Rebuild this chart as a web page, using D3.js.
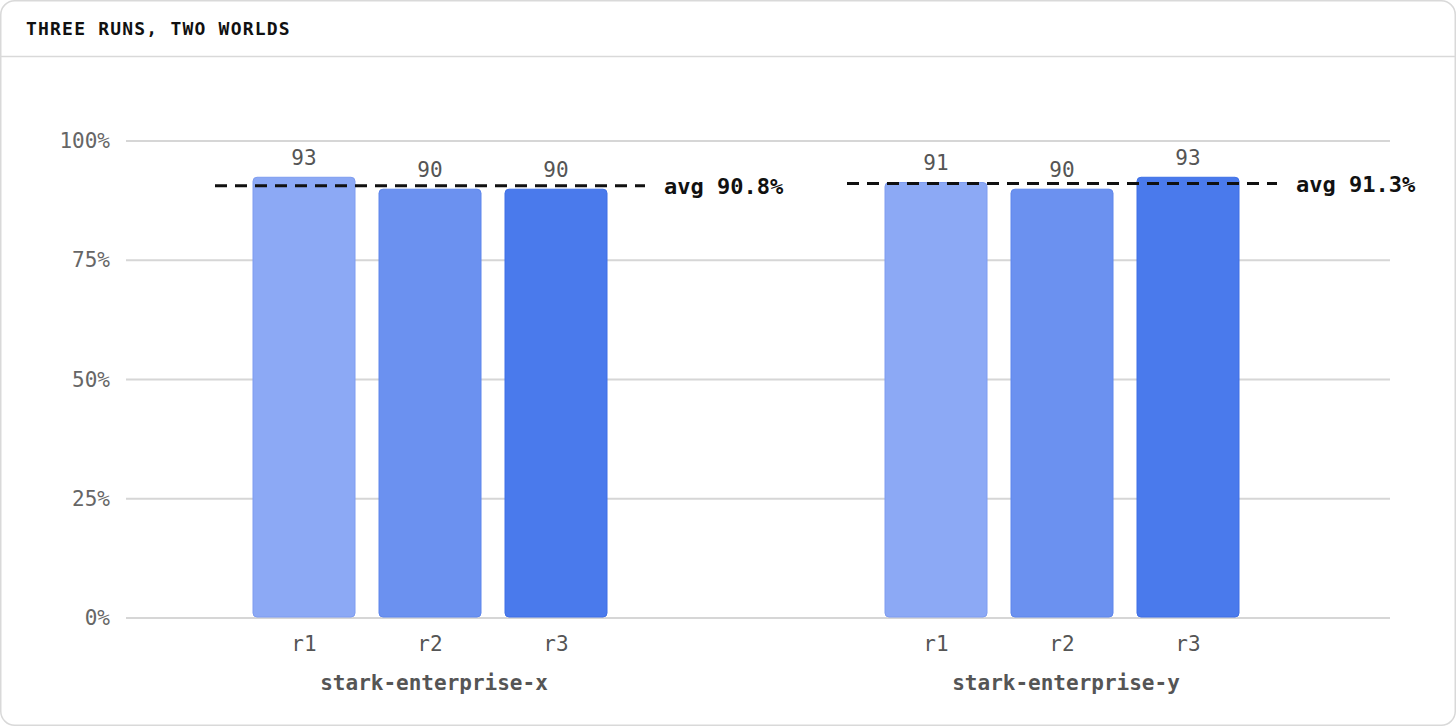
<!DOCTYPE html>
<html>
<head>
<meta charset="utf-8">
<script src="https://cdnjs.cloudflare.com/ajax/libs/d3/7.8.5/d3.min.js"></script>
<style>
  html, body { margin: 0; padding: 0; background: #fff; }
  svg { display: block; }
  text { font-family: "DejaVu Sans Mono", monospace; }
</style>
</head>
<body>
<div id="chart"></div>
<script>
// data
var groups = ["stark-enterprise-x", "stark-enterprise-y"];
var runs = ["r1", "r2", "r3"];
var scoresX = [92.5, 90, 90];
var scoresY = [91.4, 90, 92.5];
var runColors = ["#8ca9f5", "#6b91f0", "#4a7aec"];
var runStrokes = ["#7e9cf0", "#5e86ec", "#3e6fe6"];
var yTicks = [0, 25, 50, 75, 100];
var title = "THREE RUNS, TWO WORLDS";

var svgWidth = 1456;
var svgHeight = 726;

var svg = d3.select("#chart")
    .append("svg")
    .attr("width", svgWidth)
    .attr("height", svgHeight);

// card frame
svg.append("rect")
    .attr("x", 0.75).attr("y", 0.75)
    .attr("width", svgWidth - 1.5).attr("height", svgHeight - 1.5)
    .attr("rx", 14)
    .attr("fill", "#fff")
    .attr("stroke", "#d9d9d9")
    .attr("stroke-width", 1.5);

svg.append("line")
    .attr("x1", 1).attr("x2", svgWidth - 1)
    .attr("y1", 56.5).attr("y2", 56.5)
    .attr("stroke", "#d9d9d9")
    .attr("stroke-width", 1.5);

svg.append("text")
    .attr("x", 26).attr("y", 35)
    .attr("font-size", 18)
    .attr("font-weight", "bold")
    .attr("letter-spacing", 1.2)
    .attr("fill", "#111")
    .text(title);

var data = [
    { group: groups[0], values: scoresX },
    { group: groups[1], values: scoresY }
];

// scales
var x0 = d3.scaleBand()
    .domain(groups)
    .range([114, 1378]);

var x1 = d3.scaleBand()
    .domain(runs)
    .range([-189, 189])
    .paddingInner(24 / 126)
    .paddingOuter(12 / 126);

var y = d3.scaleLinear()
    .domain([0, 100])
    .range([618, 141]);

// grid + y axis
var yAxis = d3.axisLeft(y)
    .tickValues(yTicks)
    .tickSize(0)
    .tickPadding(14)
    .tickFormat(d => d + "%");

var yG = svg.append("g")
    .attr("transform", "translate(124,0)")
    .call(yAxis);
yG.select(".domain").remove();
yG.selectAll("text")
    .attr("font-family", "DejaVu Sans Mono")
    .attr("font-size", 21)
    .attr("fill", "#666");

svg.append("g").selectAll("line")
    .data(yTicks)
    .enter()
    .append("line")
    .attr("x1", 126).attr("x2", 1390)
    .attr("y1", d => y(d)).attr("y2", d => y(d))
    .attr("stroke", "#d6d6d6")
    .attr("stroke-width", 2);

// bars
var groupG = svg.selectAll(".grp")
    .data(data)
    .enter()
    .append("g")
    .attr("class", "grp")
    .attr("transform", d => `translate(${x0(d.group) + x0.bandwidth() / 2},0)`);

groupG.selectAll("rect")
    .data(d => d.values.map((v, i) => ({ run: runs[i], v: v, i: i })))
    .enter()
    .append("rect")
    .attr("x", d => x1(d.run))
    .attr("y", d => y(d.v) + 0.5)
    .attr("width", x1.bandwidth())
    .attr("height", d => y(0) - y(d.v) - 1.5)
    .attr("rx", 4)
    .attr("fill", d => runColors[d.i])
    .attr("stroke", d => runStrokes[d.i])
    .attr("stroke-width", 1);

groupG.selectAll(".val")
    .data(d => d.values.map((v, i) => ({ run: runs[i], v: v })))
    .enter()
    .append("text")
    .attr("class", "val")
    .attr("x", d => x1(d.run) + x1.bandwidth() / 2)
    .attr("y", d => y(d.v) - 12)
    .attr("text-anchor", "middle")
    .attr("font-size", 21)
    .attr("fill", "#555")
    .text(d => Math.round(d.v));

// run labels
groupG.selectAll(".run")
    .data(runs)
    .enter()
    .append("text")
    .attr("class", "run")
    .attr("x", d => x1(d) + x1.bandwidth() / 2)
    .attr("y", 651)
    .attr("text-anchor", "middle")
    .attr("font-size", 21)
    .attr("fill", "#555")
    .text(d => d);

// group labels
groupG.append("text")
    .attr("x", 4)
    .attr("y", 690)
    .attr("text-anchor", "middle")
    .attr("font-size", 21)
    .attr("font-weight", "bold")
    .attr("fill", "#555")
    .text(d => d.group);

// average lines
groupG.append("line")
    .attr("x1", -215).attr("x2", 215)
    .attr("y1", d => y(d3.mean(d.values)) + 1)
    .attr("y2", d => y(d3.mean(d.values)) + 1)
    .attr("stroke", "#111")
    .attr("stroke-width", 3)
    .attr("stroke-dasharray", "12,8");

groupG.append("text")
    .attr("x", 234)
    .attr("y", d => y(d3.mean(d.values)) + 1)
    .attr("dy", "0.38em")
    .attr("font-size", 22)
    .attr("font-weight", "bold")
    .attr("fill", "#111")
    .text(d => "avg " + d3.mean(d.values).toFixed(1) + "%");
</script>
</body>
</html>
